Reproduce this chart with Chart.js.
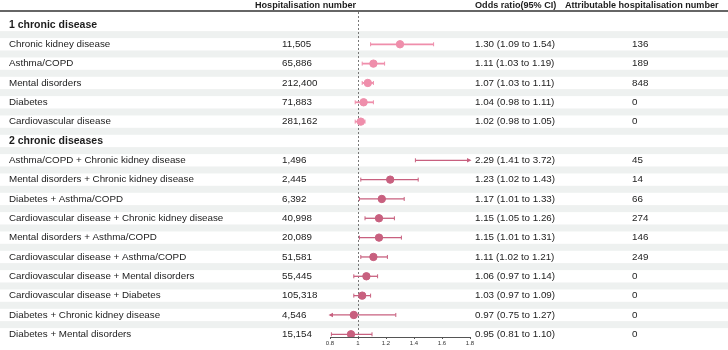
<!DOCTYPE html>
<html>
<head>
<meta charset="utf-8">
<script src="https://cdn.jsdelivr.net/npm/chart.js@4"></script>
<style>
body{margin:0;background:#fff;}
#wrap{position:relative;width:728px;height:350px;}
</style>
</head>
<body>
<div id="wrap"><canvas id="forest"></canvas></div>
<script>
// rows of the table, top to bottom (group 0 = section heading row)
var rowLabels = ["1 chronic disease","Chronic kidney disease","Asthma/COPD","Mental disorders","Diabetes","Cardiovascular disease",
	"2 chronic diseases","Asthma/COPD + Chronic kidney disease","Mental disorders + Chronic kidney disease","Diabetes + Asthma/COPD",
	"Cardiovascular disease + Chronic kidney disease","Mental disorders + Asthma/COPD","Cardiovascular disease + Asthma/COPD",
	"Cardiovascular disease + Mental disorders","Cardiovascular disease + Diabetes","Diabetes + Chronic kidney disease","Diabetes + Mental disorders"];
var rowGroup = [0,1,1,1,1,1,0,2,2,2,2,2,2,2,2,2,2];
var hospNumbers = [null,"11,505","65,886","212,400","71,883","281,162",null,"1,496","2,445","6,392","40,998","20,089","51,581","55,445","105,318","4,546","15,154"];
var oddsRatio = [null,1.30,1.11,1.07,1.04,1.02,null,2.29,1.23,1.17,1.15,1.15,1.11,1.06,1.03,0.97,0.95];
var ciLow = [null,1.09,1.03,1.03,0.98,0.98,null,1.41,1.02,1.01,1.05,1.01,1.02,0.97,0.97,0.75,0.81];
var ciHigh = [null,1.54,1.19,1.11,1.11,1.05,null,3.72,1.43,1.33,1.26,1.31,1.21,1.14,1.09,1.27,1.10];
var attribNumbers = [null,136,189,848,0,0,null,45,14,66,274,146,249,0,0,0,0];
var headers = ["Hospitalisation number","Odds ratio(95% CI)","Attributable hospitalisation number"];
var xTicks = [0.8,1,1.2,1.4,1.6,1.8];

var colOne = '#ef8eab';
var colTwo = '#c8607f';
var textCol = '#1c1c1c';
var fontName = '"Liberation Sans", Arial, sans-serif';

function pointsFor(g){
	let pts = [];
	for(let i = 0; i < rowLabels.length; i++){
		if(rowGroup[i] == g) pts.push({x:oddsRatio[i], y:i});
	}
	return pts;
}

let tablePlugin = {
	id:'table',
	beforeDraw:function(chart){
		let ctx = chart.ctx, y = chart.scales.y;
		ctx.save();
		ctx.fillStyle = '#fff';
		ctx.fillRect(0,0,chart.width,chart.height);
		ctx.fillStyle = '#eef1f0';
		for(let i = 0; i < rowLabels.length - 1; i++){
			let yc = y.getPixelForValue(i + 0.5);
			ctx.fillRect(0, yc - 3.5, chart.width, 7);
		}
		ctx.restore();
	},
	beforeDatasetsDraw:function(chart){
		let ctx = chart.ctx, x = chart.scales.x, y = chart.scales.y, area = chart.chartArea;
		ctx.save();
		// reference line at OR = 1
		ctx.strokeStyle = '#777';
		ctx.lineWidth = 1;
		ctx.setLineDash([2,2]);
		let x1 = Math.round(x.getPixelForValue(1)) + 0.5;
		ctx.beginPath();
		ctx.moveTo(x1, area.top);
		ctx.lineTo(x1, area.bottom);
		ctx.stroke();
		ctx.setLineDash([]);
		// confidence intervals
		for(let i = 0; i < rowLabels.length; i++){
			if(oddsRatio[i] == null) continue;
			let col = rowGroup[i] == 1 ? colOne : colTwo;
			let lo = Math.max(ciLow[i], x.min), hi = Math.min(ciHigh[i], x.max);
			let xa = x.getPixelForValue(lo), xb = x.getPixelForValue(hi), yp = y.getPixelForValue(i);
			ctx.strokeStyle = col;
			ctx.fillStyle = col;
			ctx.lineWidth = rowGroup[i] == 1 ? 1.8 : 1.3;
			ctx.beginPath();
			ctx.moveTo(xa, yp);
			ctx.lineTo(xb, yp);
			ctx.stroke();
			ctx.lineWidth = 1;
			[[xa, ciLow[i] < x.min, -1],[xb, ciHigh[i] > x.max, 1]].forEach(function(e){
				ctx.beginPath();
				if(e[1]){
					ctx.moveTo(e[0] + 1.5*e[2], yp);
					ctx.lineTo(e[0] - 3*e[2], yp - 2.2);
					ctx.lineTo(e[0] - 3*e[2], yp + 2.2);
					ctx.closePath();
					ctx.fill();
				}else{
					ctx.moveTo(e[0], yp - 2);
					ctx.lineTo(e[0], yp + 2);
					ctx.stroke();
				}
			});
		}
		ctx.restore();
	},
	afterDraw:function(chart){
		let ctx = chart.ctx, y = chart.scales.y;
		ctx.save();
		ctx.strokeStyle = '#666';
		ctx.lineWidth = 2;
		ctx.beginPath();
		ctx.moveTo(0, 11);
		ctx.lineTo(chart.width, 11);
		ctx.stroke();
		ctx.fillStyle = textCol;
		ctx.textBaseline = 'middle';
		ctx.font = 'bold 9.1px ' + fontName;
		ctx.fillText(headers[0], 255, 5.5);
		ctx.fillText(headers[1], 475, 5.5);
		ctx.fillText(headers[2], 565, 5.5);
		for(let i = 0; i < rowLabels.length; i++){
			let yp = y.getPixelForValue(i);
			if(rowGroup[i] == 0){
				ctx.font = 'bold 10.5px ' + fontName;
				ctx.fillText(rowLabels[i], 9, yp);
				continue;
			}
			ctx.font = '9.8px ' + fontName;
			ctx.fillText(rowLabels[i], 9, yp);
			ctx.fillText(hospNumbers[i], 282, yp);
			ctx.fillText(oddsRatio[i].toFixed(2) + ' (' + ciLow[i].toFixed(2) + ' to ' + ciHigh[i].toFixed(2) + ')', 475, yp);
			ctx.fillText(String(attribNumbers[i]), 632, yp);
		}
		ctx.restore();
	}
};

let forest = new Chart(document.querySelector("#forest").getContext("2d"),{
	type:'scatter',
	data:{
		datasets:[{
			label:'1 chronic disease',
			data:pointsFor(1),
			backgroundColor:colOne,
			borderColor:colOne,
			pointRadius:3.7,
			pointHoverRadius:3.7,
		},{
			label:'2 chronic diseases',
			data:pointsFor(2),
			backgroundColor:colTwo,
			borderColor:colTwo,
			pointRadius:3.7,
			pointHoverRadius:3.7,
		}]
	},
	options:{
		responsive:true,
		maintainAspectRatio:false,
		animation:false,
		events:[],
		layout:{
			padding:{left:330, right:258, top:12, bottom:0}
		},
		plugins:{
			legend:{display:false},
			tooltip:{enabled:false}
		},
		scales:{
			x:{
				type:'linear',
				min:xTicks[0],
				max:xTicks[xTicks.length-1],
				afterBuildTicks:function(s){
					s.ticks = xTicks.map(function(v){ return {value:v}; });
				},
				afterFit:function(s){
					s.height = 13;
					s.paddingLeft = 0;
					s.paddingRight = 0;
				},
				ticks:{
					font:{family:fontName, size:6},
					color:'#333',
					padding:1,
					maxRotation:0,
					callback:function(v){ return String(+v.toFixed(1)); }
				},
				grid:{
					drawOnChartArea:false,
					drawTicks:true,
					tickLength:2,
					color:'#555'
				},
				border:{color:'#555', width:1}
			},
			y:{
				type:'linear',
				display:false,
				reverse:true,
				min:-0.67,
				max:rowLabels.length - 1 + 0.14
			}
		}
	},
	plugins:[tablePlugin]
});
</script>
</body>
</html>
